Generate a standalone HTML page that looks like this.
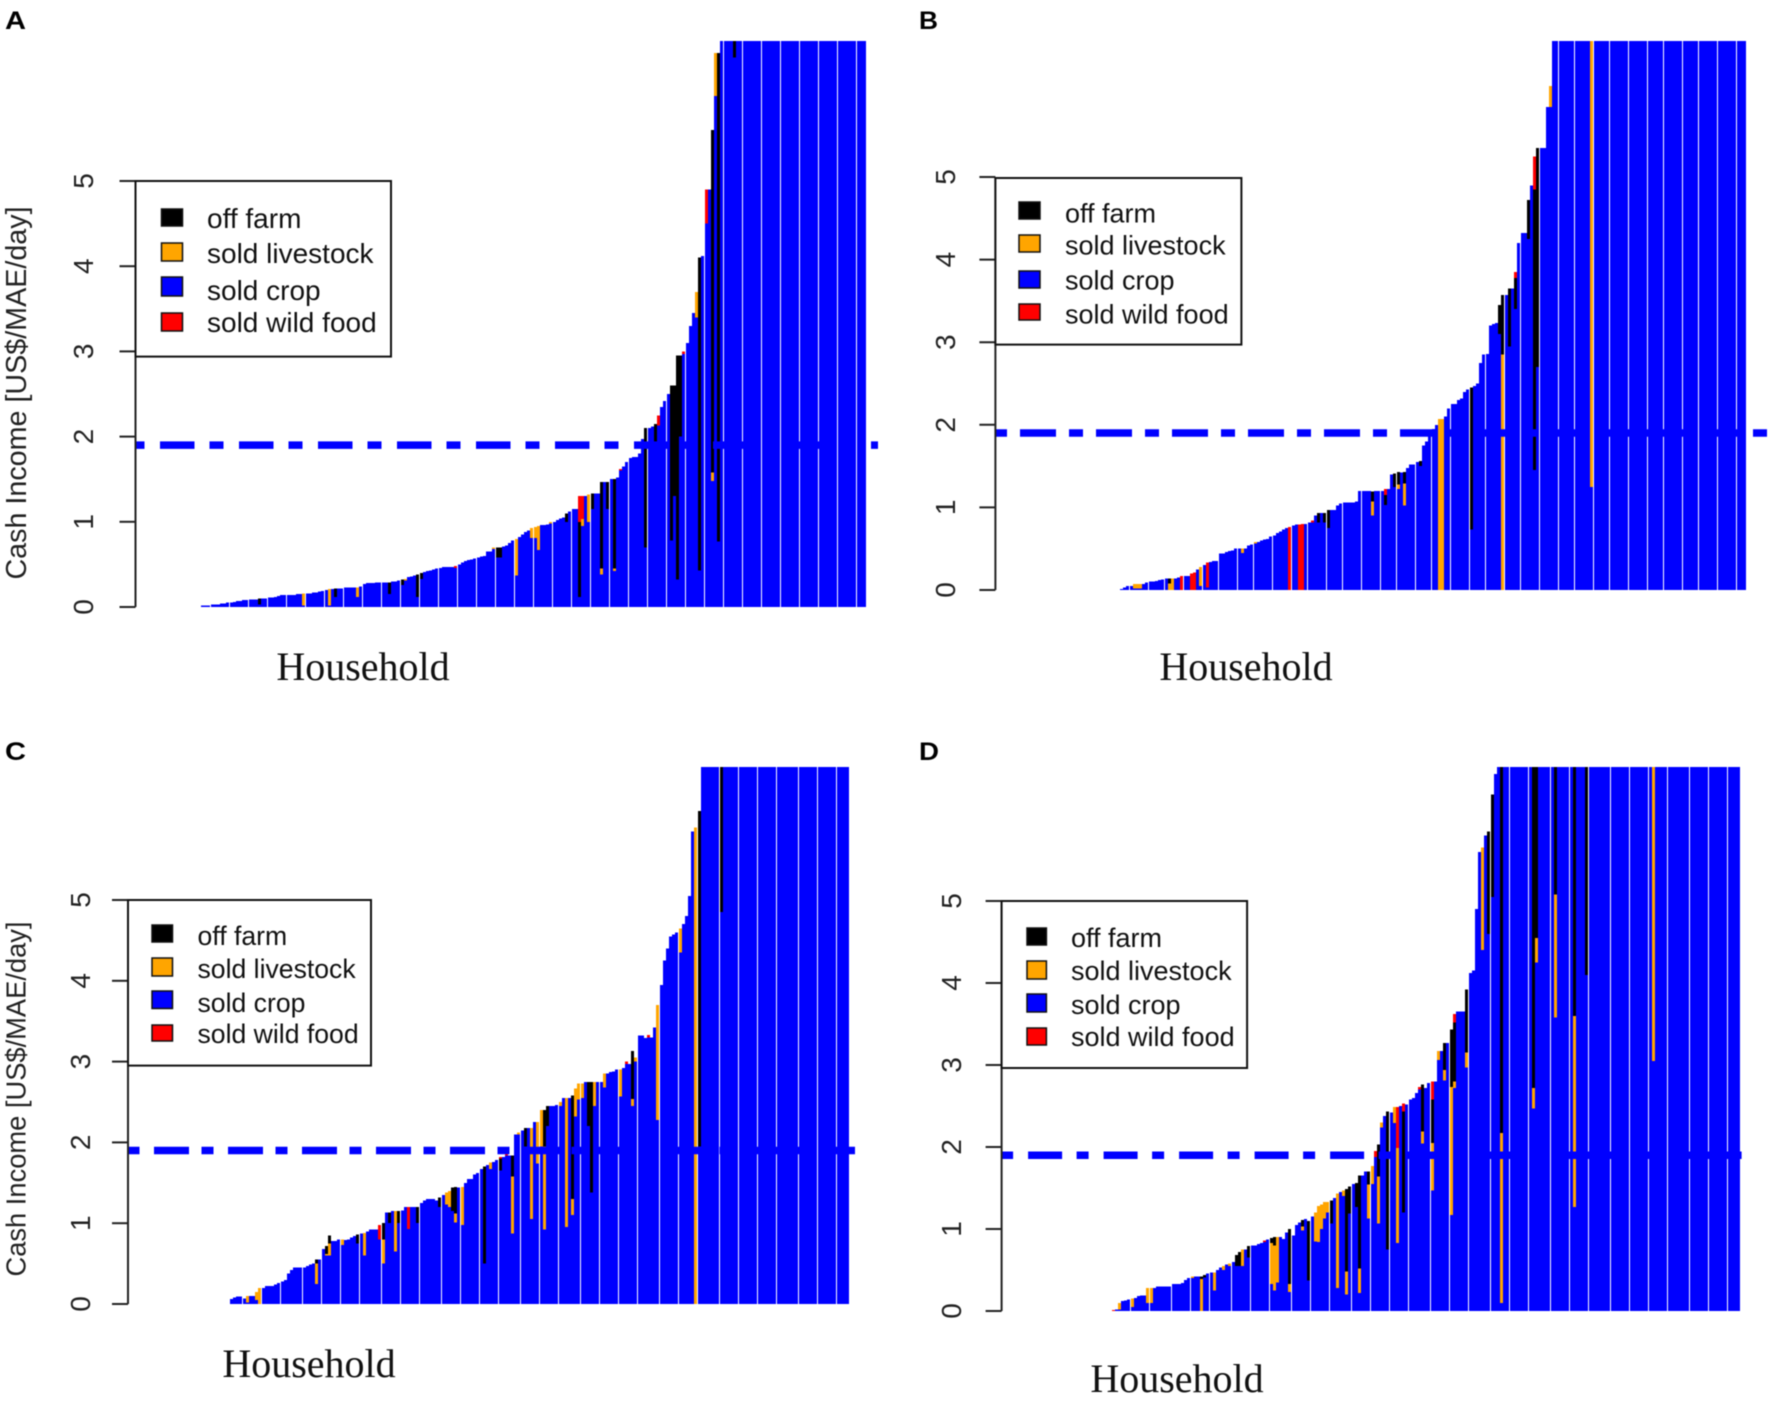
<!DOCTYPE html>
<html lang="en">
<head>
<meta charset="utf-8">
<title>Cash income by household</title>
<style>
html,body{margin:0;padding:0;background:#fff;width:1772px;height:1428px;overflow:hidden}
svg{display:block;filter:blur(0.5px)}
.lg{font-family:"Liberation Sans",sans-serif;fill:#111}
.hh{font-family:"Liberation Serif",serif;font-size:40px;fill:#111;text-anchor:middle}
.pl{font-family:"Liberation Sans",sans-serif;font-weight:bold;font-size:25px;fill:#000}
.yt{font-family:"Liberation Sans",sans-serif;fill:#222}
.sw{stroke:#111;stroke-width:1.5}
.lb{fill:#fff;stroke:#111;stroke-width:2}
</style>
</head>
<body>
<svg xmlns="http://www.w3.org/2000/svg" width="1772" height="1428" viewBox="0 0 1772 1428">
<defs>
<clipPath id="clip-a"><rect x="190" y="41" width="700" height="566"/></clipPath>
<clipPath id="clip-b"><rect x="1100" y="41" width="660" height="549"/></clipPath>
<clipPath id="clip-c"><rect x="220" y="767" width="650" height="537"/></clipPath>
<clipPath id="clip-d"><rect x="1100" y="767" width="660" height="544"/></clipPath>
</defs>
<rect width="1772" height="1428" fill="#fff"/>

<g id="panel-a">
<g id="plot-a"></g>
<text class="pl" x="5" y="29" textLength="21" lengthAdjust="spacingAndGlyphs">A</text>
<text class="yt" font-size="28.7" transform="translate(26,393) rotate(-90)" text-anchor="middle">Cash Income [US$/MAE/day]</text>
<text class="hh" x="363" y="680">Household</text>
<g>
<rect class="lb" x="135.5" y="181" width="255.5" height="175.6"/>
<rect class="sw" x="161.5" y="209" width="21" height="17" fill="#000"/>
<rect class="sw" x="161.5" y="243" width="21" height="18" fill="#ffa500"/>
<rect class="sw" x="161.5" y="277" width="21" height="19" fill="#0000ff"/>
<rect class="sw" x="161.5" y="313" width="21" height="18" fill="#ff0000"/>
<text class="lg" font-size="28" x="207" y="228">off farm</text>
<text class="lg" font-size="28" x="207" y="263">sold livestock</text>
<text class="lg" font-size="28" x="207" y="300">sold crop</text>
<text class="lg" font-size="28" x="207" y="332">sold wild food</text>
</g>
</g>

<g id="panel-b">
<g id="plot-b"></g>
<text class="pl" x="919" y="29" textLength="19" lengthAdjust="spacingAndGlyphs">B</text>
<text class="hh" x="1246" y="680">Household</text>
<g>
<rect class="lb" x="995.4" y="178" width="246" height="166.6"/>
<rect class="sw" x="1019" y="202" width="21" height="17" fill="#000"/>
<rect class="sw" x="1019" y="235" width="21" height="17" fill="#ffa500"/>
<rect class="sw" x="1019" y="271" width="21" height="17" fill="#0000ff"/>
<rect class="sw" x="1019" y="304" width="21" height="16" fill="#ff0000"/>
<text class="lg" font-size="27" x="1065" y="222.5">off farm</text>
<text class="lg" font-size="27" x="1065" y="254.5">sold livestock</text>
<text class="lg" font-size="27" x="1065" y="289.5">sold crop</text>
<text class="lg" font-size="27" x="1065" y="323.5">sold wild food</text>
</g>
</g>

<g id="panel-c">
<g id="plot-c"></g>
<text class="pl" x="5" y="760" textLength="21" lengthAdjust="spacingAndGlyphs">C</text>
<text class="yt" font-size="27.3" transform="translate(25.5,1099) rotate(-90)" text-anchor="middle">Cash Income [US$/MAE/day]</text>
<text class="hh" x="309" y="1377">Household</text>
<g>
<rect class="lb" x="128" y="900" width="243" height="165.6"/>
<rect class="sw" x="152" y="925" width="20.5" height="17" fill="#000"/>
<rect class="sw" x="152" y="958" width="20.5" height="18" fill="#ffa500"/>
<rect class="sw" x="152" y="991" width="20.5" height="17.5" fill="#0000ff"/>
<rect class="sw" x="152" y="1025" width="20.5" height="16" fill="#ff0000"/>
<text class="lg" font-size="26.6" x="197.5" y="945">off farm</text>
<text class="lg" font-size="26.6" x="197.5" y="978">sold livestock</text>
<text class="lg" font-size="26.6" x="197.5" y="1012">sold crop</text>
<text class="lg" font-size="26.6" x="197.5" y="1043">sold wild food</text>
</g>
</g>

<g id="panel-d">
<g id="plot-d"></g>
<text class="pl" x="919" y="760" textLength="20" lengthAdjust="spacingAndGlyphs">D</text>
<text class="hh" x="1177" y="1392">Household</text>
<g>
<rect class="lb" x="1001.6" y="901" width="245.5" height="167"/>
<rect class="sw" x="1027" y="928" width="19.4" height="17" fill="#000"/>
<rect class="sw" x="1027" y="961" width="19.4" height="18" fill="#ffa500"/>
<rect class="sw" x="1027" y="994" width="19.4" height="18" fill="#0000ff"/>
<rect class="sw" x="1027" y="1028" width="19.4" height="17" fill="#ff0000"/>
<text class="lg" font-size="27" x="1071" y="947">off farm</text>
<text class="lg" font-size="27" x="1071" y="980">sold livestock</text>
<text class="lg" font-size="27" x="1071" y="1014">sold crop</text>
<text class="lg" font-size="27" x="1071" y="1046">sold wild food</text>
</g>
</g>
</svg>

<script>
// Shared axis data
const yTickValues = [0, 1, 2, 3, 4, 5];
const yTickLabels = ["0", "1", "2", "3", "4", "5"];
const referenceIncome = 1.9;

// Panel A
const soldCropA = [
.02,.02,.02,.03,.03,.03,.04,.04,.05,.05,
.06,.07,.07,.08,.08,.09,.09,.09,.03,.10,
.10,.11,.11,.12,.13,.14,.14,.14,.14,.14,
.15,.15,.02,.16,.16,.17,.17,.18,.19,.20,
.02,.21,.12,.22,.22,.23,.23,.23,.23,.12,
.24,.27,.28,.28,.28,.29,.29,.29,.29,.15,
.30,.30,.31,.26,.31,.35,.36,.37,.12,.33,
.41,.42,.43,.44,.45,.46,.47,.47,.47,.47,
.46,.50,.52,.54,.55,.56,.57,.58,.59,.60,
.65,.65,.68,.58,.58,.71,.72,.75,.78,.37,
.82,.85,.88,.90,.81,.81,.67,.96,.96,.97,
.98,1.00,1.02,1.04,1.05,1.00,1.12,1.15,1.15,.12,
.95,1.30,1.00,1.15,1.33,1.33,.38,1.47,1.15,1.50,
.42,1.52,1.60,1.65,1.70,1.75,1.76,1.76,1.80,1.97,
.70,2.10,2.12,1.90,2.13,2.35,2.42,2.50,.78,1.30,
.32,2.00,2.97,3.10,3.30,3.45,3.40,.43,4.12,4.50,
4.90,1.48,6.00,.77,
6.8,6.9,7.0,7.2,6.45,7.5,7.6,7.8,7.9,8.1,8.3,8.4,8.6,8.9,9.1,9.3,9.6,9.9,10.2,10.4,10.7,11,11.3,11.7,12,12.4,12.9,13.3,13.8,14.2,14.9,15.5,16.2,17,17.8,18.6,19.5,20.5,21.8,23,24.5,26,28,31,35,42];
const offFarmHouseholdsA = [18,42,59,63,68,69,93,94,115,119,123,126,128,130,140,143,148,149,150,151,157,161,163,168];
const offFarmValuesA = [.07,.10,.14,.06,.26,.07,.12,.12,.10,.88,.18,1.02,.32,1.05,1.40,.25,1.82,1.30,2.63,.95,3.67,4.02,5.73,1.0];
const livestockHouseholdsA = [32,40,49,64,92,99,104,105,106,110,120,122,126,130,156,161,162];
const livestockValuesA = [.14,.19,.11,.02,.02,.43,.12,.13,.28,.02,.08,.32,.07,.03,.30,.10,.50];
const wildFoodHouseholdsA = [80,119,120,132,144,152,159];
const wildFoodValuesA = [.02,.30,.27,.02,.12,.03,.40];

// Panel B
const soldCropB = [
.01,.03,.05,.05,.02,.02,.02,.07,.09,.10,
.10,.11,.12,.13,.14,.00,.00,.14,.15,.00,
.17,.17,.00,.00,.25,.05,.30,.03,.34,.35,
.35,.44,.44,.46,.47,.48,.50,.50,.45,.50,
.54,.55,.56,.58,.60,.61,.62,.65,.66,.69,
.71,.73,.75,.00,.78,.79,.00,.00,.80,.82,
.82,.90,.82,.93,.82,.75,.97,.97,1.02,1.05,
1.06,1.06,1.06,1.06,1.07,1.20,1.20,1.20,1.20,.90,
1.20,1.20,1.20,1.03,1.22,1.40,1.25,1.22,1.42,1.02,
1.48,1.52,1.52,1.55,1.50,1.75,1.80,1.90,1.95,2.00,
.00,.00,2.10,2.20,2.25,2.25,2.30,2.32,2.40,2.43,
.73,2.47,2.50,2.75,2.85,2.86,3.20,3.22,3.23,3.10,
.00,3.57,2.95,3.65,3.40,4.20,4.32,4.32,4.25,4.90,
1.45,2.70,5.35,5.35,5.85,5.85,
6.9,7.0,7.1,7.3,7.4,7.6,7.7,7.9,8.0,8.2,8.3,8.5,1.25,
8.7,8.9,9.1,9.3,9.5,9.7,9.9,10.2,10.4,10.7,11,11.3,11.6,12,12.3,12.7,13.1,13.5,14,14.5,15,15.6,16.2,16.9,17.6,18.4,19.3,20.2,21.3,22.5,24,25.5,27.5,29.5,32,35,38,42,47,52,58,64,71,78,86,95,105,116];
const offFarmHouseholdsB = [15,62,64,65,79,83,86,87,89,94,110,119,120,122,124,128,130,131];
const offFarmValuesB = [.06,.11,.11,.22,.12,.12,.16,.15,.14,.06,1.72,.35,.72,.70,.38,.47,3.4,2.65];
const livestockHouseholdsB = [4,5,6,15,16,25,38,42,79,87,89,100,101,120,135,148];
const livestockValuesB = [.05,.05,.05,.08,.14,.23,.05,.02,.17,.06,.27,2.07,2.07,2.85,.25,8];
const wildFoodHouseholdsB = [19,22,23,27,53,56,57,60,83,124,130];
const wildFoodValuesB = [.17,.20,.21,.30,.76,.79,.80,.02,.07,.07,.40];

// Panel C
const soldCropC = [
.06,.08,.09,.09,.07,.02,.10,.10,.05,.00,
.20,.22,.22,.22,.24,.26,.28,.30,.38,.42,
.45,.45,.45,.45,.47,.49,.50,.25,.55,.68,
.60,.60,.78,.78,.80,.73,.79,.80,.82,.84,
.75,.87,.60,.90,.92,.92,.92,.80,.50,1.13,
1.00,1.15,.65,1.00,1.16,1.20,.93,1.20,1.20,1.00,
1.25,1.28,1.30,1.30,1.30,1.28,1.20,1.35,1.23,1.20,
1.15,1.01,1.44,.98,1.50,1.55,1.55,1.60,1.62,1.67,
.50,1.72,1.67,1.76,1.78,1.65,1.82,1.84,1.84,.87,
2.10,2.10,2.15,1.95,2.18,1.05,2.25,1.74,1.95,.92,
2.20,2.45,2.45,2.46,2.45,2.55,.95,2.55,1.10,2.32,
2.53,2.55,2.75,2.20,1.38,2.45,2.75,2.75,2.68,2.85,
2.87,2.88,2.90,2.57,2.92,2.97,2.97,2.45,3.00,3.32,
3.32,3.29,3.30,3.30,3.42,2.28,3.95,4.25,4.40,4.55,
4.57,4.60,4.35,4.70,4.80,5.05,5.85,.00,1.95,
6.9,7.0,7.2,7.3,7.5,7.6,4.85,
7.8,8.0,8.2,8.4,8.6,8.8,9.0,9.3,9.5,9.8,10.1,10.4,10.7,11,11.4,11.8,12.2,12.6,13.1,13.6,14.2,14.8,15.5,16.2,17,18,19,20,21.5,23,24.5,26.5,28.5,31,34,37,41,45,50,56];
const offFarmHouseholdsC = [27,30,31,40,48,50,53,59,66,70,71,80,85,89,93,99,100,108,113,114,127,148,155];
const offFarmValuesC = [.05,.1,.1,.11,.2,.13,.15,.2,.12,.29,.33,1.2,.15,.26,.23,.45,.25,1.28,.55,1.37,.59,4.15,9];
const livestockHouseholdsC = [5,8,9,27,30,31,35,42,48,52,68,69,71,73,82,89,91,95,97,98,99,104,106,108,109,110,111,115,118,123,127,128,135,142,147];
const livestockValuesC = [.08,.1,.2,.25,.02,.15,.07,.28,.3,.5,.15,.2,.11,.47,.08,.71,.02,1.13,.51,.45,1.03,.05,1.6,.2,.35,.2,.18,.3,.17,.33,.09,.05,1.42,.3,5.9];
const wildFoodHouseholdsC = [47,56,85,87,125,132];
const wildFoodValuesC = [.18,.27,.02,.03,.03,.03];

// Panel D
const soldCropD = [
.00,.02,.02,.12,.13,.14,.05,.16,.18,.19,
.19,.10,.10,.28,.30,.30,.30,.30,.30,.33,
.33,.33,.34,.38,.40,.40,.42,.42,.00,.41,
.46,.47,.25,.50,.53,.50,.57,.55,.60,.55,
.55,.55,.75,.65,.80,.80,.82,.83,.84,.87,
.33,.25,.35,.90,.88,.96,.23,.92,1.05,1.08,
.98,1.12,.37,1.15,.85,.84,1.00,1.13,1.20,1.07,
1.38,.28,1.45,1.40,.20,1.19,1.55,1.27,.22,1.65,
1.70,1.13,1.55,1.88,1.07,2.24,2.38,.75,2.42,2.29,
.83,2.50,1.20,2.52,2.58,2.60,2.66,2.70,2.04,2.72,
2.78,1.47,2.80,3.06,3.17,2.81,3.27,1.17,2.72,3.65,
3.65,3.65,2.97,4.12,4.15,4.90,5.60,4.40,5.80,4.60,
5.05,6.55,
7.1,.10,
7.2,7.3,7.4,7.5,7.6,7.7,7.8,7.9,8.0,
2.47,4.25,
8.1,8.2,8.3,8.4,8.5,
3.58,
8.6,8.7,8.8,8.9,9.0,
1.27,
9.1,9.2,9.3,
4.10,
9.4,9.5,9.6,9.7,9.8,10,10.2,10.4,10.6,10.8,11,11.2,11.5,11.8,12.1,12.4,12.7,13,13.4,13.8,
3.05,
14.2,14.6,15,15.5,16,16.6,17.2,17.8,18.5,19.2,20,20.8,21.7,22.7,23.8,25,26.3,27.8,29.5,31.5,33.5,36,39,42,46,50,56];
const offFarmHouseholdsD = [28,29,39,40,43,50,51,56,60,62,69,74,75,77,78,81,84,87,92,98,101,105,107,108,112,119,120,123,133,134,140,146,150];
const offFarmValuesD = [.03,.03,.13,.17,.14,.06,.1,.67,.08,.73,.28,1.01,.33,.29,1.13,.16,.39,1.68,1.23,.57,.53,.33,.70,.72,.77,1.25,1.25,9,9,9,9,9,9];
const livestockHouseholdsD = [2,6,11,12,25,28,32,35,37,41,50,51,52,56,60,64,65,66,67,68,71,73,74,78,81,82,84,85,89,90,98,101,103,105,107,108,112,117,123,133,134,140,146,171];
const livestockValuesD = [.08,.1,.18,.18,.02,.39,.22,.05,.03,.2,.5,.55,.55,.1,.05,.35,.44,.3,.2,.13,1.15,.07,.28,.3,.41,.22,.57,.06,.2,1.16,.15,.58,.11,.13,1.56,.08,.18,1.25,2.07,.25,.3,1.5,2.33,9];
const wildFoodHouseholdsD = [0,48,83,90,92,97,101,108];
const wildFoodValuesD = [.01,.02,.07,.5,.1,.03,.22,.1];

const seriesColors = {crop:"#0000ff", livestock:"#ffa500", off:"#000000", wild:"#ff0000"};
const svgNS = "http://www.w3.org/2000/svg";

function sparse(length, households, values) {
  const out = new Array(length).fill(0);
  households.forEach(function (h, k) { out[h] = values[k]; });
  return out;
}

function drawPanel(p) {
  const host = document.getElementById(p.host);
  const n = p.crop.length;
  const livestock = sparse(n, p.lsH, p.lsV);
  const off = sparse(n, p.offH, p.offV);
  const wild = sparse(n, p.wildH, p.wildV);
  const yScale = function (v) { return p.y0 - v * p.unit; };
  const xScale = function (i) { return Math.round(p.barLeft + i * (p.barRight - p.barLeft - 3) / (n - 1)); };

  const bars = document.createElementNS(svgNS, "g");
  
  
  bars.setAttribute("clip-path", "url(#" + p.clip + ")");
  bars.setAttribute("shape-rendering", "crispEdges");
  host.appendChild(bars);

  for (let i = 0; i < n; i++) {
    const stack = [[p.crop[i], seriesColors.crop], [livestock[i], seriesColors.livestock], [off[i], seriesColors.off], [wild[i], seriesColors.wild]];
    let base = 0;
    stack.forEach(function (s) {
      if (s[0] <= 0) { return; }
      const top = base + s[0];
      const yTop = yScale(top);
      const yBottom = yScale(base);
      const rect = document.createElementNS(svgNS, "rect");
      
      
      rect.setAttribute("x", xScale(i));
      rect.setAttribute("y", yTop);
      rect.setAttribute("width", 3);
      rect.setAttribute("height", yBottom - yTop);
      rect.setAttribute("fill", s[1]);
      bars.appendChild(rect);
      base = top;
    });
  }

  const dash = document.createElementNS(svgNS, "line");
  
  
  dash.setAttribute("x1", p.axisX);
  dash.setAttribute("x2", p.dashEnd);
  dash.setAttribute("y1", yScale(referenceIncome));
  dash.setAttribute("y2", yScale(referenceIncome));
  dash.setAttribute("stroke", "#0000ff");
  dash.setAttribute("stroke-width", "7.5");
  dash.setAttribute("stroke-dasharray", p.dashes);
  dash.setAttribute("stroke-dashoffset", p.dashOffset);
  host.appendChild(dash);

  const axis = document.createElementNS(svgNS, "line");
  
  
  axis.setAttribute("x1", p.axisX);
  axis.setAttribute("x2", p.axisX);
  axis.setAttribute("y1", yScale(yTickValues[0]));
  axis.setAttribute("y2", yScale(yTickValues[yTickValues.length - 1]));
  axis.setAttribute("stroke", "#222");
  axis.setAttribute("stroke-width", "2");
  host.appendChild(axis);

  yTickValues.forEach(function (v, k) {
    const tick = document.createElementNS(svgNS, "line");
    
    
    tick.setAttribute("x1", p.axisX - 16);
    tick.setAttribute("x2", p.axisX);
    tick.setAttribute("y1", yScale(v));
    tick.setAttribute("y2", yScale(v));
    tick.setAttribute("stroke", "#222");
    tick.setAttribute("stroke-width", "2");
    host.appendChild(tick);

    const label = document.createElementNS(svgNS, "text");
    
    
    label.setAttribute("class", "yt");
    label.setAttribute("font-size", "28");
    label.setAttribute("text-anchor", "middle");
    label.setAttribute("transform", "translate(" + p.labelX + "," + yScale(v) + ") rotate(-90)");
    label.textContent = yTickLabels[k];
    host.appendChild(label);
  });
}

drawPanel({host:"plot-a", clip:"clip-a", crop:soldCropA, lsH:livestockHouseholdsA, lsV:livestockValuesA, offH:offFarmHouseholdsA, offV:offFarmValuesA, wildH:wildFoodHouseholdsA, wildV:wildFoodValuesA,
  axisX:135.5, labelX:93, y0:607, unit:85.2, barLeft:201, barRight:866, dashEnd:878, dashes:"34.5 15 14 15.5", dashOffset:54.5});
drawPanel({host:"plot-b", clip:"clip-b", crop:soldCropB, lsH:livestockHouseholdsB, lsV:livestockValuesB, offH:offFarmHouseholdsB, offV:offFarmValuesB, wildH:wildFoodHouseholdsB, wildV:wildFoodValuesB,
  axisX:995.4, labelX:955, y0:590, unit:82.6, barLeft:1120, barRight:1746, dashEnd:1772, dashes:"36 13 14 13", dashOffset:51.4});
drawPanel({host:"plot-c", clip:"clip-c", crop:soldCropC, lsH:livestockHouseholdsC, lsV:livestockValuesC, offH:offFarmHouseholdsC, offV:offFarmValuesC, wildH:wildFoodHouseholdsC, wildV:wildFoodValuesC,
  axisX:128, labelX:90, y0:1304, unit:80.8, barLeft:230, barRight:849, dashEnd:859, dashes:"35 12.5 12 14.5", dashOffset:48});
drawPanel({host:"plot-d", clip:"clip-d", crop:soldCropD, lsH:livestockHouseholdsD, lsV:livestockValuesD, offH:offFarmHouseholdsD, offV:offFarmValuesD, wildH:wildFoodHouseholdsD, wildV:wildFoodValuesD,
  axisX:1001.6, labelX:961, y0:1311, unit:82, barLeft:1111.6, barRight:1740, dashEnd:1744, dashes:"34 14.5 12 15", dashOffset:49});
</script>
</body>
</html>
